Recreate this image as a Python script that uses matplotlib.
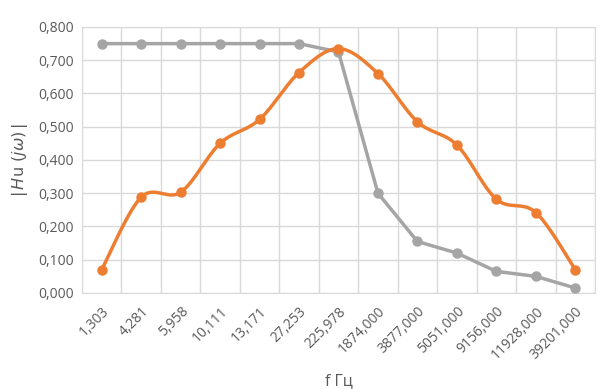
import numpy as np
import matplotlib
matplotlib.use('Agg')
import matplotlib.pyplot as plt

freqs = ['1,303', '4,281', '5,958', '10,111', '13,171', '27,253', '225,978',
         '1874,000', '3877,000', '5051,000', '9156,000', '11928,000', '39201,000']
gray_vals = [0.750, 0.750, 0.750, 0.750, 0.750, 0.750, 0.725,
             0.300, 0.155, 0.120, 0.065, 0.050, 0.015]
orange_vals = [0.070, 0.288, 0.303, 0.450, 0.522, 0.663, 0.735,
               0.660, 0.515, 0.445, 0.282, 0.242, 0.070]
yticks = [0.0, 0.1, 0.2, 0.3, 0.4, 0.5, 0.6, 0.7, 0.8]

ORANGE = '#ED7D31'
GRAY = '#A5A5A5'
GRID = '#D9D9D9'
TXT = '#595959'

plt.rcParams['font.family'] = ['Open Sans', 'DejaVu Sans']


def smooth(x, y, n=30):
    # Excel-like smoothed line: cubic bezier with catmull-rom control points
    x = np.asarray(x, float)
    y = np.asarray(y, float)
    px = np.concatenate([[x[0]], x, [x[-1]]])
    py = np.concatenate([[y[0]], y, [y[-1]]])
    xs, ys = [], []
    t = np.linspace(0, 1, n)
    for i in range(1, len(px) - 2):
        p0 = np.array([px[i], py[i]])
        p3 = np.array([px[i + 1], py[i + 1]])
        c1 = p0 + (np.array([px[i + 1], py[i + 1]]) - np.array([px[i - 1], py[i - 1]])) / 6
        c2 = p3 - (np.array([px[i + 2], py[i + 2]]) - np.array([px[i], py[i]])) / 6
        b = ((1 - t) ** 3)[:, None] * p0 + (3 * (1 - t) ** 2 * t)[:, None] * c1 \
            + (3 * (1 - t) * t ** 2)[:, None] * c2 + (t ** 3)[:, None] * p3
        xs.extend(b[:, 0])
        ys.extend(b[:, 1])
    return np.array(xs), np.array(ys)


fig = plt.figure(figsize=(6.05, 3.89), dpi=100)
ax = fig.add_axes([0.1355, 0.2468, 0.848, 0.6838])

x = np.arange(len(freqs))
ax.plot(x, gray_vals, color=GRAY, lw=2.5, marker='o', ms=6.5, zorder=3)
sx, sy = smooth(x, orange_vals)
ax.plot(sx, sy, color=ORANGE, lw=2.5, zorder=4)
ax.plot(x, orange_vals, 'o', color=ORANGE, ms=6.5, zorder=5)

ax.set_xlim(-0.5, len(freqs) - 0.5)
ax.set_ylim(0, 0.8)
ax.set_yticks(yticks)
ax.set_yticklabels(['{:.3f}'.format(v).replace('.', ',') for v in yticks])
ax.set_xticks(x)
ax.set_xticklabels(freqs, rotation=45, ha='right', rotation_mode='anchor')
ax.set_xticks(np.arange(-0.5, len(freqs), 1), minor=True)
ax.tick_params(axis='x', which='major', length=0, pad=8)
ax.tick_params(axis='x', which='minor', length=0)
ax.tick_params(axis='y', length=0, pad=6)
ax.tick_params(labelsize=10, labelcolor=TXT)
ax.grid(True, axis='y', color=GRID, lw=1)
ax.grid(True, axis='x', which='minor', color=GRID, lw=1)
for s in ax.spines.values():
    s.set_color(GRID)

ax.set_xlabel('f Гц', fontsize=11.5, color=TXT, labelpad=8)
ax.set_ylabel(r'$|\,H\mathrm{u}\ (j\omega)\,|$', fontsize=11.5, color=TXT, labelpad=6)

fig.savefig('out.png', dpi=100)
